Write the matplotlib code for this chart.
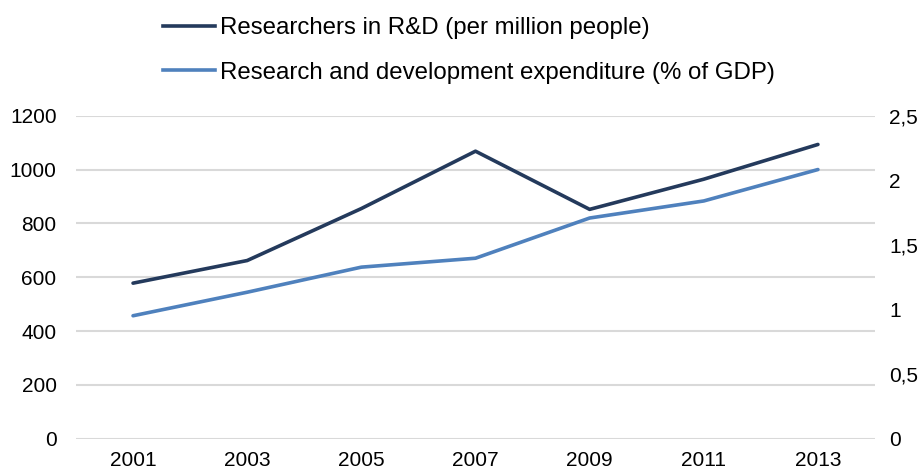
import matplotlib
matplotlib.use("Agg")
import matplotlib.pyplot as plt
from matplotlib.lines import Line2D

years = ["2001", "2003", "2005", "2007", "2009", "2011", "2013"]
researchers = [578, 662, 855, 1068, 852, 964, 1093]
expenditure = [0.952, 1.134, 1.328, 1.397, 1.708, 1.840, 2.083]
left_ticks = [0, 200, 400, 600, 800, 1000, 1200]
right_ticks = [0, 0.5, 1, 1.5, 2, 2.5]
right_labels = ["0", "0,5", "1", "1,5", "2", "2,5"]

dark = "#243a5c"
blue = "#4f81bd"
grid = "#d9d9d9"

plt.rcParams['font.family'] = ['Liberation Sans', 'DejaVu Sans']

fig = plt.figure(figsize=(9.23, 4.72), dpi=100)
ax = fig.add_axes([0.0823, 0.0703, 0.8657, 0.6847])
ax2 = ax.twinx()

x = list(range(len(years)))
ax.plot(x, researchers, color=dark, lw=2.6, solid_capstyle='round', zorder=3)
ax2.plot(x, expenditure, color=blue, lw=2.6, solid_capstyle='round', zorder=3)

ax.set_xlim(-0.5, len(years) - 0.5)
ax.set_ylim(0, 1200)
ax2.set_ylim(0, 2.5)
ax.set_yticks(left_ticks)
ax.set_yticklabels([str(t) for t in left_ticks])
ax2.set_yticks(right_ticks)
ax2.set_yticklabels(right_labels)
ax.set_xticks(x)
ax.set_xticklabels(years)

ax.grid(axis='y', color=grid, lw=1.5)
ax.set_axisbelow(True)
for a in (ax, ax2):
    for s in a.spines.values():
        s.set_visible(False)
ax.tick_params(axis='y', length=0, pad=14, labelsize=15, colors='#000000')
ax.tick_params(axis='x', length=0, pad=9, labelsize=15, colors='#000000')
ax2.tick_params(axis='y', length=0, pad=10, labelsize=15, colors='#000000')

handles = [Line2D([0], [0], color=dark, lw=2.6),
           Line2D([0], [0], color=blue, lw=2.6)]
labels = ["Researchers in R&D (per million people)",
          "Research and development expenditure (% of GDP)"]
fig.legend(handles, labels, loc='upper left', bbox_to_anchor=(0.1766, 0.963),
           frameon=False, fontsize=17.3, handlelength=2.17, handletextpad=0.2,
           labelspacing=0.92, borderaxespad=0, borderpad=0)

fig.savefig("out.png", dpi=100)
